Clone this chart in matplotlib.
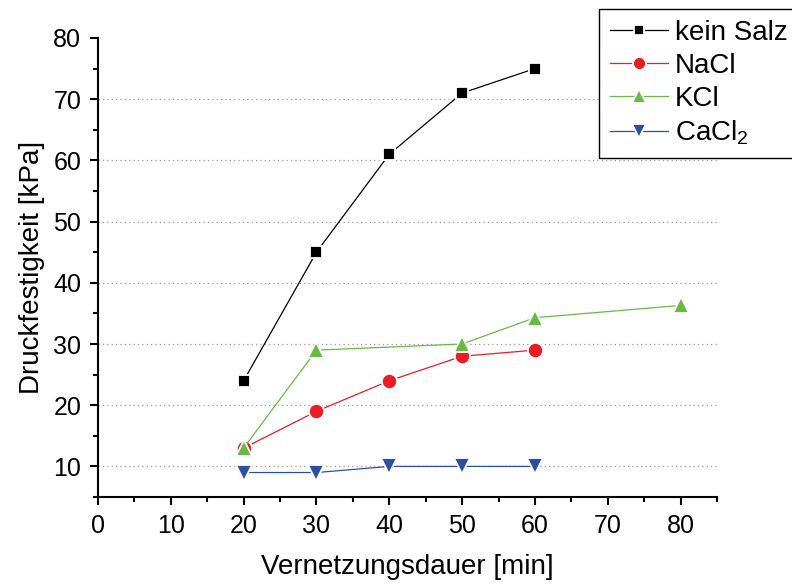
import numpy as np
import matplotlib.pyplot as plt
from matplotlib.ticker import MultipleLocator

plt.rcParams['font.family'] = ['Liberation Sans', 'DejaVu Sans']
plt.rcParams['mathtext.default'] = 'regular'

# data
x_kein = [20, 30, 40, 50, 60]
y_kein = [24, 45, 61, 71, 75]
x_nacl = [20, 30, 40, 50, 60]
y_nacl = [13, 19, 24, 28, 29]
x_kcl = [20, 30, 50, 60, 80]
y_kcl = [13, 29, 30, 34.3, 36.3]
x_cacl = [20, 30, 40, 50, 60]
y_cacl = [9, 9, 10, 10, 10]

fig = plt.figure(figsize=(7.92, 5.87), dpi=100)
ax = fig.add_axes([0.1237, 0.1533, 0.7816, 0.782])

series = [
    (x_kein, y_kein, 'kein Salz', '#000000', 's', 8.5),
    (x_nacl, y_nacl, 'NaCl', '#ec1c24', 'o', 11),
    (x_kcl, y_kcl, 'KCl', '#6ab845', '^', 12),
    (x_cacl, y_cacl, 'CaCl$_2$', '#2d4fa3', 'v', 12),
]
for xs, ys, lab, c, m, ms in series:
    ax.plot(xs, ys, color=c, lw=0.9, marker=m, ms=ms, mfc=c,
            mec='white', mew=1.3, label=lab, zorder=3)

ax.set_xlim(0, 85)
ax.set_ylim(5, 80)
ax.xaxis.set_major_locator(MultipleLocator(10))
ax.xaxis.set_minor_locator(MultipleLocator(5))
ax.yaxis.set_major_locator(MultipleLocator(10))
ax.yaxis.set_minor_locator(MultipleLocator(5))
ax.set_yticks([10, 20, 30, 40, 50, 60, 70, 80])

for yg in [10, 20, 30, 40, 50, 60, 70]:
    ax.axhline(yg, color='#9a9a9a', lw=0.9, ls=(0, (1, 2.5)), zorder=1)

for s in ['top', 'right']:
    ax.spines[s].set_visible(False)
for s in ['left', 'bottom']:
    ax.spines[s].set_linewidth(1.5)

ax.tick_params(which='major', direction='out', length=6, width=1.5, labelsize=18, pad=6)
ax.tick_params(which='minor', direction='out', length=3.5, width=1.5)

ax.set_xlabel('Vernetzungsdauer [min]', fontsize=20, labelpad=12)
ax.set_ylabel('Druckfestigkeit [kPa]', fontsize=20, labelpad=6)

leg = fig.legend(loc='upper left', bbox_to_anchor=(0.756, 0.985), fontsize=20,
                 frameon=True, fancybox=False, edgecolor='black', framealpha=1,
                 handlelength=2.1, handletextpad=0.25, labelspacing=0.25,
                 borderpad=0.4, borderaxespad=0, markerscale=0.85)
leg.get_frame().set_linewidth(1.0)

fig.savefig('out.png', dpi=100)
